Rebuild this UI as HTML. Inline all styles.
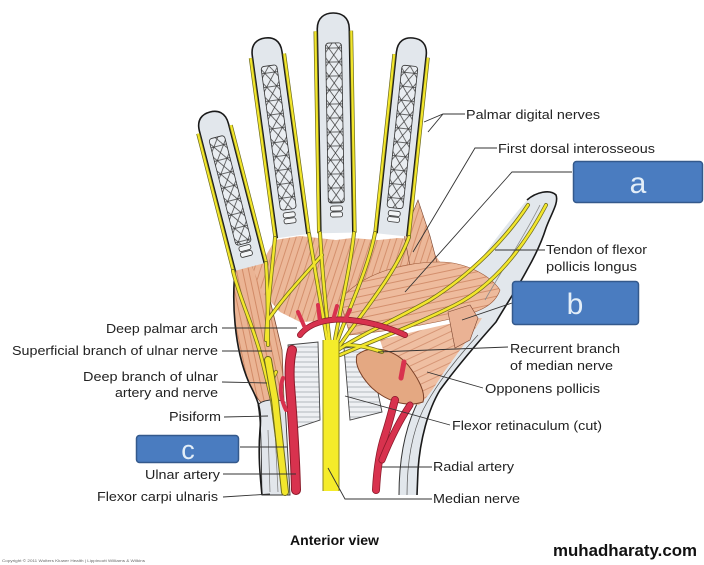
<!DOCTYPE html>
<html><head><meta charset="utf-8"><style>
html,body{margin:0;padding:0;background:#fff;}
svg{display:block;}
text{font-family:"Liberation Sans",Arial,sans-serif;}
</style></head><body>
<svg width="704" height="565" viewBox="0 0 704 565" xmlns="http://www.w3.org/2000/svg">
<defs>
<pattern id="xp" width="10" height="14" patternUnits="userSpaceOnUse"><rect width="10" height="14" fill="#e9edf1"/><path d="M0,0 L10,14 M10,0 L0,14 M0,7 L10,7" stroke="#3a3a3a" stroke-width="0.7" fill="none"/></pattern>
<pattern id="mv" width="6" height="6" patternUnits="userSpaceOnUse" patternTransform="rotate(-12)"><rect width="6" height="6" fill="#ebb494"/><path d="M1,0 V6" stroke="#cf8662" stroke-width="0.9"/></pattern>
<pattern id="mv2" width="6" height="6" patternUnits="userSpaceOnUse" patternTransform="rotate(18)"><rect width="6" height="6" fill="#ecb899"/><path d="M1,0 V6" stroke="#cf8662" stroke-width="0.8"/></pattern>
<pattern id="mh" width="7" height="7" patternUnits="userSpaceOnUse" patternTransform="rotate(78)"><rect width="7" height="7" fill="#eebb9d"/><path d="M1,0 V7" stroke="#d08a68" stroke-width="0.9"/></pattern>
<pattern id="mh2" width="7" height="7" patternUnits="userSpaceOnUse" patternTransform="rotate(65)"><rect width="7" height="7" fill="#efbfa2"/><path d="M1,0 V7" stroke="#d08c6b" stroke-width="0.8"/></pattern>
<pattern id="wl" width="6" height="5" patternUnits="userSpaceOnUse"><rect width="6" height="5" fill="#eef0f3"/><path d="M0,2 H6" stroke="#9aa0a8" stroke-width="0.7"/></pattern>
</defs>
<rect width="704" height="565" fill="#fff"/>

<!-- palm muscles -->
<path d="M236,262 C231,300 234,350 250,385 C256,398 262,405 268,408 L284,400 L282,350 L270,300 L252,266 Z" fill="url(#mv)" stroke="#7a4530" stroke-width="0.8"/>
<path d="M252,266 L262,262 L275,240 L300,236 L318,238 L336,240 L352,238 L378,240 L398,238 L425,240 L440,262 L420,285 L380,305 L350,320 L300,322 L280,312 L262,292 Z" fill="url(#mv2)"/>
<path d="M404,234 L418,200 L430,236 L438,266 L410,266 Z" fill="url(#mv2)" stroke="#7a4530" stroke-width="0.6"/>

<!-- thumb + right wrist band -->
<path d="M527,200 C536,192 550,189 556,195 C559,203 551,214 546,228 C541,244 535,256 527,270 C518,287 506,305 496,322 C480,340 458,365 440,390 C428,410 420,440 418,470 L417,495 L399,495 C399,465 403,435 415,408 C428,380 448,352 470,330 L478,315 C470,310 463,300 458,292 C478,262 503,228 527,200 Z" fill="#e2e7ec"/>
<path d="M527,200 C536,192 550,189 556,195 C559,203 551,214 546,228 C541,244 535,256 527,270 C518,287 506,305 496,322 C480,340 458,365 440,390 C428,410 420,440 418,470 L417,495" fill="none" stroke="#1a1a1a" stroke-width="1.6"/>
<path d="M399,495 C399,465 403,435 415,408 C428,380 448,352 470,330" fill="none" stroke="#333" stroke-width="1"/>
<path d="M407,495 C407,465 411,435 423,410 C436,385 455,360 478,335" fill="none" stroke="#555" stroke-width="0.7"/>

<!-- adductor and thenar -->
<path d="M340,300 C360,275 400,262 440,262 C465,262 490,275 500,290 C495,305 480,312 455,318 C420,326 380,332 350,335 Z" fill="url(#mh)" stroke="#9a5838" stroke-width="0.6"/>
<path d="M380,340 C420,330 455,322 482,318 C472,335 456,355 442,375 C434,388 427,398 419,405 L400,402 Z" fill="url(#mh2)"/>
<path d="M448,312 L470,305 L478,318 L470,340 L455,348 Z" fill="#eab294" stroke="#7a4530" stroke-width="0.6"/>

<!-- wrist / retinaculum -->
<path d="M288,345 L318,342 L320,420 L296,428 Z" fill="url(#wl)" stroke="#444" stroke-width="0.9"/>
<path d="M344,348 L368,345 L382,412 L350,420 Z" fill="url(#wl)" stroke="#444" stroke-width="0.9"/>
<path d="M258,405 C262,400 275,398 285,402 L290,495 L262,495 C261,460 262,430 258,405 Z" fill="#e2e6eb" stroke="#333" stroke-width="0.9"/>
<path d="M268,430 L270,492 M275,430 L278,492" stroke="#777" stroke-width="0.7"/>
<path d="M236,262 C231,300 234,350 250,385 C258,400 262,410 260,430 C258,455 260,475 262,495" fill="none" stroke="#1a1a1a" stroke-width="1.6"/>

<!-- opponens cut -->
<path d="M357,355 C372,343 395,350 408,365 C418,378 426,392 423,402 C405,408 385,400 372,388 C362,378 354,365 357,355 Z" fill="#e4a882" stroke="#7a4128" stroke-width="1"/>

<!-- fingers -->
<g transform="translate(210,112) rotate(-14.4)">
<path d="M-15,160 L-15,16 C-15,4 -8,0 0,0 C8,0 15,4 15,16 L15,160" fill="#e2e7ec" stroke="#1a1a1a" stroke-width="1.6"/>
<rect x="-8" y="26" width="16" height="110" rx="3" fill="url(#xp)" stroke="#333" stroke-width="0.8"/>
<rect x="-6" y="138" width="12" height="5" rx="2" fill="#f3f5f7" stroke="#333" stroke-width="0.8"/>
<rect x="-6" y="144" width="12" height="5" rx="2" fill="#f3f5f7" stroke="#333" stroke-width="0.8"/>
<path d="M-17,18 L-17,160 M17,18 L17,160" stroke="#6d6a1e" stroke-width="3.6" fill="none"/>
<path d="M-17,18 L-17,160 M17,18 L17,160" stroke="#f2e62c" stroke-width="2.2" fill="none"/>
</g>
<g transform="translate(265,38) rotate(-7.8)">
<path d="M-15,200 L-15,16 C-15,4 -8,0 0,0 C8,0 15,4 15,16 L15,200" fill="#e2e7ec" stroke="#1a1a1a" stroke-width="1.6"/>
<rect x="-8" y="28" width="16" height="145" rx="3" fill="url(#xp)" stroke="#333" stroke-width="0.8"/>
<rect x="-6" y="176" width="12" height="5" rx="2" fill="#f3f5f7" stroke="#333" stroke-width="0.8"/>
<rect x="-6" y="182" width="12" height="5" rx="2" fill="#f3f5f7" stroke="#333" stroke-width="0.8"/>
<path d="M-17,18 L-17,200 M17,18 L17,200" stroke="#6d6a1e" stroke-width="3.6" fill="none"/>
<path d="M-17,18 L-17,200 M17,18 L17,200" stroke="#f2e62c" stroke-width="2.2" fill="none"/>
</g>
<g transform="translate(333,13) rotate(-1)">
<path d="M-16,220 L-16,16 C-16,4 -8,0 0,0 C8,0 16,4 16,16 L16,220" fill="#e2e7ec" stroke="#1a1a1a" stroke-width="1.6"/>
<rect x="-8" y="30" width="16" height="160" rx="3" fill="url(#xp)" stroke="#333" stroke-width="0.8"/>
<rect x="-6" y="193" width="12" height="5" rx="2" fill="#f3f5f7" stroke="#333" stroke-width="0.8"/>
<rect x="-6" y="199" width="12" height="5" rx="2" fill="#f3f5f7" stroke="#333" stroke-width="0.8"/>
<path d="M-18,18 L-18,220 M18,18 L18,220" stroke="#6d6a1e" stroke-width="3.6" fill="none"/>
<path d="M-18,18 L-18,220 M18,18 L18,220" stroke="#f2e62c" stroke-width="2.2" fill="none"/>
</g>
<g transform="translate(413,38) rotate(6.1)">
<path d="M-15,198 L-15,16 C-15,4 -8,0 0,0 C8,0 15,4 15,16 L15,198" fill="#e2e7ec" stroke="#1a1a1a" stroke-width="1.6"/>
<rect x="-8" y="28" width="16" height="143" rx="3" fill="url(#xp)" stroke="#333" stroke-width="0.8"/>
<rect x="-6" y="174" width="12" height="5" rx="2" fill="#f3f5f7" stroke="#333" stroke-width="0.8"/>
<rect x="-6" y="180" width="12" height="5" rx="2" fill="#f3f5f7" stroke="#333" stroke-width="0.8"/>
<path d="M-17,18 L-17,198 M17,18 L17,198" stroke="#6d6a1e" stroke-width="3.6" fill="none"/>
<path d="M-17,18 L-17,198 M17,18 L17,198" stroke="#f2e62c" stroke-width="2.2" fill="none"/>
</g>

<!-- thumb tendon -->
<path d="M540,205 C525,235 505,265 485,300" stroke="#888" stroke-width="0.8" fill="none"/>

<!-- nerves -->
<g fill="none" stroke-linecap="round">
<g stroke="#6d6a1e" stroke-width="4">
<path d="M233,271 C240,300 255,330 262,360 L272,400 L284,492"/>
<path d="M266,263 C268,290 268,320 268,345"/>
<path d="M275,238 C272,270 268,300 266,340"/>
<path d="M309,234 C315,270 322,310 328,345"/>
<path d="M320,233 C322,270 326,310 330,345"/>
<path d="M354,233 C350,270 340,310 334,345"/>
<path d="M375,233 C368,270 348,310 336,345"/>
<path d="M409,237 C395,275 360,315 338,348"/>
<path d="M268,320 C285,295 305,275 322,255"/>
<path d="M528,205 C505,240 470,275 430,300 C395,320 360,335 338,350"/>
<path d="M546,205 C525,245 495,285 455,305 C415,325 375,340 340,355"/>
<path d="M345,345 C360,345 370,348 382,352"/>
<path d="M276,372 C270,382 270,392 276,402"/>
</g>
<g stroke="#f2e62c" stroke-width="2.5">
<path d="M233,271 C240,300 255,330 262,360 L272,400 L284,492"/>
<path d="M266,263 C268,290 268,320 268,345"/>
<path d="M275,238 C272,270 268,300 266,340"/>
<path d="M309,234 C315,270 322,310 328,345"/>
<path d="M320,233 C322,270 326,310 330,345"/>
<path d="M354,233 C350,270 340,310 334,345"/>
<path d="M375,233 C368,270 348,310 336,345"/>
<path d="M409,237 C395,275 360,315 338,348"/>
<path d="M268,320 C285,295 305,275 322,255"/>
<path d="M528,205 C505,240 470,275 430,300 C395,320 360,335 338,350"/>
<path d="M546,205 C525,245 495,285 455,305 C415,325 375,340 340,355"/>
<path d="M345,345 C360,345 370,348 382,352"/>
<path d="M276,372 C270,382 270,392 276,402"/>
</g>
<path d="M268,360 L275,400 L285,492" stroke="#6d6a1e" stroke-width="8"/>
<path d="M268,360 L275,400 L285,492" stroke="#f2e62c" stroke-width="6"/>
<path d="M331,340 L331,491" stroke="#8a8520" stroke-width="17" stroke-linecap="butt"/>
<path d="M331,340 L331,491" stroke="#f5ec2a" stroke-width="15" stroke-linecap="butt"/>
</g>

<!-- arteries -->
<g fill="none" stroke-linecap="round">
<path d="M296,490 C295,450 292,410 290,385 C289,370 290,358 292,350" stroke="#8b1a2a" stroke-width="10"/>
<path d="M296,490 C295,450 292,410 290,385 C289,370 290,358 292,350" stroke="#d8324e" stroke-width="8"/>
<path d="M300,335 C310,322 330,318 350,320 C370,322 390,328 405,335" stroke="#8b1a2a" stroke-width="6"/>
<path d="M300,335 C310,322 330,318 350,320 C370,322 390,328 405,335" stroke="#d8324e" stroke-width="4.5"/>
<path d="M305,328 L298,312 M320,322 L318,305 M333,320 L337,306 M345,320 L350,310" stroke="#d8324e" stroke-width="4"/>
<path d="M283,378 C279,388 281,400 286,410" stroke="#d8324e" stroke-width="4"/>
<path d="M376,490 C377,470 380,450 385,435 C390,420 392,410 395,400" stroke="#8b1a2a" stroke-width="8"/>
<path d="M376,490 C377,470 380,450 385,435 C390,420 392,410 395,400" stroke="#d8324e" stroke-width="6.5"/>
<path d="M382,460 C390,440 400,420 410,405" stroke="#8b1a2a" stroke-width="7"/>
<path d="M382,460 C390,440 400,420 410,405" stroke="#d8324e" stroke-width="5.5"/>
<path d="M404,362 L401,378" stroke="#d8324e" stroke-width="5"/>
</g>

<!-- leader lines -->
<g fill="none" stroke="#333" stroke-width="0.9">
<path d="M465,114 L443,114 L424,122 M443,114 L428,132"/>
<path d="M497,148 L475,148 L413,252"/>
<path d="M572,172 L512,172 L405,292"/>
<path d="M545,250 L495,250"/>
<path d="M512,303 L462,320"/>
<path d="M508,347 L378,352"/>
<path d="M483,388 L427,372"/>
<path d="M450,425 L345,396"/>
<path d="M432,467 L382,467"/>
<path d="M432,499 L345,499 L328,468"/>
<path d="M222,328 L297,328"/>
<path d="M222,351 L272,351"/>
<path d="M222,382 L267,383"/>
<path d="M224,417 L268,416"/>
<path d="M240,447 L287,447"/>
<path d="M223,474 L296,474"/>
<path d="M223,497 L270,494"/>
</g>

<!-- labels -->
<g font-size="13" fill="#222">
<text x="466" y="119" textLength="134" lengthAdjust="spacingAndGlyphs">Palmar digital nerves</text>
<text x="498" y="153" textLength="157" lengthAdjust="spacingAndGlyphs">First dorsal interosseous</text>
<text x="546" y="254" textLength="101" lengthAdjust="spacingAndGlyphs">Tendon of flexor</text>
<text x="546" y="271" textLength="91" lengthAdjust="spacingAndGlyphs">pollicis longus</text>
<text x="510" y="353" textLength="110" lengthAdjust="spacingAndGlyphs">Recurrent branch</text>
<text x="510" y="370" textLength="103" lengthAdjust="spacingAndGlyphs">of median nerve</text>
<text x="485" y="393" textLength="115" lengthAdjust="spacingAndGlyphs">Opponens pollicis</text>
<text x="452" y="430" textLength="150" lengthAdjust="spacingAndGlyphs">Flexor retinaculum (cut)</text>
<text x="433" y="471" textLength="81" lengthAdjust="spacingAndGlyphs">Radial artery</text>
<text x="433" y="503" textLength="87" lengthAdjust="spacingAndGlyphs">Median nerve</text>
<text x="106" y="333" textLength="112" lengthAdjust="spacingAndGlyphs">Deep palmar arch</text>
<text x="12" y="355" textLength="206" lengthAdjust="spacingAndGlyphs">Superficial branch of ulnar nerve</text>
<text x="83" y="381" textLength="135" lengthAdjust="spacingAndGlyphs">Deep branch of ulnar</text>
<text x="115" y="397" textLength="103" lengthAdjust="spacingAndGlyphs">artery and nerve</text>
<text x="169" y="421" textLength="52" lengthAdjust="spacingAndGlyphs">Pisiform</text>
<text x="145" y="479" textLength="75" lengthAdjust="spacingAndGlyphs">Ulnar artery</text>
<text x="97" y="501" textLength="121" lengthAdjust="spacingAndGlyphs">Flexor carpi ulnaris</text>
</g>
<text x="290" y="545" font-size="14" font-weight="bold" fill="#111" textLength="89" lengthAdjust="spacingAndGlyphs">Anterior view</text>
<text x="553" y="556" font-size="17" font-weight="bold" fill="#111" textLength="144" lengthAdjust="spacingAndGlyphs">muhadharaty.com</text>
<text x="2" y="562" font-size="4" fill="#666" textLength="143" lengthAdjust="spacingAndGlyphs">Copyright © 2011 Wolters Kluwer Health | Lippincott Williams &amp; Wilkins</text>

<!-- blue boxes -->
<rect x="573.5" y="161.5" width="129" height="41" rx="3" fill="#4a7cc0" stroke="#34598c" stroke-width="1.5"/>
<text x="638" y="193" font-size="30" fill="#e3eef8" text-anchor="middle">a</text>
<rect x="512.5" y="281.5" width="126" height="43" rx="3" fill="#4a7cc0" stroke="#34598c" stroke-width="1.5"/>
<text x="575" y="314" font-size="30" fill="#e3eef8" text-anchor="middle">b</text>
<rect x="136.5" y="435.5" width="102" height="27" rx="3" fill="#4a7cc0" stroke="#34598c" stroke-width="1.5"/>
<text x="188" y="459" font-size="27" fill="#e3eef8" text-anchor="middle">c</text>
</svg>
</body></html>
